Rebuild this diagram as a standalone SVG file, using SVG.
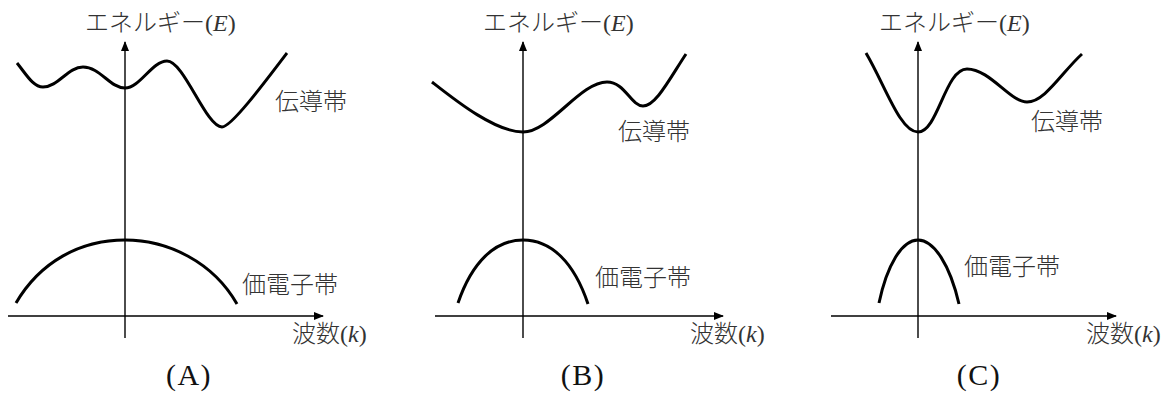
<svg xmlns="http://www.w3.org/2000/svg" width="1169" height="394" viewBox="0 0 1169 394">
  <style>
    .axis { stroke: #000; stroke-width: 1.4; fill: none; }
    .band { stroke: #000; stroke-width: 3; fill: none; stroke-linecap: butt; stroke-linejoin: round; }
    .lbl { font-family: "Liberation Serif", "Noto Sans CJK JP", serif; font-size: 24px; font-weight: 300; fill: #333; }
    .ttl { font-family: "Liberation Serif", serif; font-size: 30px; fill: #111; text-anchor: middle; letter-spacing: 1.5px; }
    .it { font-style: italic; font-weight: 400; }
  </style>
  <defs>
    <marker id="arr" markerUnits="userSpaceOnUse" markerWidth="10" markerHeight="8" refX="9" refY="4" orient="auto">
      <path d="M0,0 L10,4 L0,8 Z" fill="#000"/>
    </marker>
  </defs>
  <rect width="1169" height="394" fill="#fff"/>

  <g id="connectors">
    <line class="axis" x1="125" y1="338" x2="125" y2="42" marker-end="url(#arr)"/>
    <line class="axis" x1="8" y1="316" x2="323" y2="316" marker-end="url(#arr)"/>
    <line class="axis" x1="523" y1="338" x2="523" y2="42" marker-end="url(#arr)"/>
    <line class="axis" x1="435" y1="316" x2="723" y2="316" marker-end="url(#arr)"/>
    <line class="axis" x1="918" y1="338" x2="918" y2="42" marker-end="url(#arr)"/>
    <line class="axis" x1="831" y1="316" x2="1116" y2="316" marker-end="url(#arr)"/>
  </g>

  <g id="panel-A">
    <g id="A-conduction">
      <path class="band" d="M17,63 C26,74 33,87 43,87 C58,87 68,67 83,67 C100,67 110,88 125,88 C140,88 152,61 167,61 C184,61 206,127 222,127 C231,127 262,86 287,53"/>
      <text class="lbl" x="275" y="110">伝導帯</text>
    </g>
    <g id="A-valence">
      <path class="band" d="M16,303 C40,262 80,240 125,240 C168,240 213,262 237,304"/>
      <text class="lbl" x="242" y="293">価電子帯</text>
    </g>
    <g id="A-labels">
      <text class="lbl" x="85" y="31">エネルギー(<tspan class="it">E</tspan>)</text>
      <text class="lbl" x="292" y="342">波数(<tspan class="it">k</tspan>)</text>
      <text class="ttl" x="189" y="385">(A)</text>
    </g>
  </g>

  <g id="panel-B">
    <g id="B-conduction">
      <path class="band" d="M432,82 C455,100 495,132 523,132 C550,132 580,82 607,82 C625,82 631,106 643,106 C656,106 670,78 686,54"/>
      <text class="lbl" x="618" y="140">伝導帯</text>
    </g>
    <g id="B-valence">
      <path class="band" d="M458,303 C472,262 495,240 523,240 C551,240 574,262 588,304"/>
      <text class="lbl" x="595" y="286">価電子帯</text>
    </g>
    <g id="B-labels">
      <text class="lbl" x="483" y="31">エネルギー(<tspan class="it">E</tspan>)</text>
      <text class="lbl" x="690" y="342">波数(<tspan class="it">k</tspan>)</text>
      <text class="ttl" x="583" y="385">(B)</text>
    </g>
  </g>

  <g id="panel-C">
    <g id="C-conduction">
      <path class="band" d="M866,53 C885,85 900,132 918,132 C938,132 945,69 967,69 C990,69 1010,102 1027,102 C1045,102 1062,72 1082,54"/>
      <text class="lbl" x="1031" y="130">伝導帯</text>
    </g>
    <g id="C-valence">
      <path class="band" d="M879,303 C887,265 902,240 918,240 C934,240 950,265 959,304"/>
      <text class="lbl" x="964" y="275">価電子帯</text>
    </g>
    <g id="C-labels">
      <text class="lbl" x="879" y="31">エネルギー(<tspan class="it">E</tspan>)</text>
      <text class="lbl" x="1086" y="342">波数(<tspan class="it">k</tspan>)</text>
      <text class="ttl" x="979" y="385">(C)</text>
    </g>
  </g>
</svg>
